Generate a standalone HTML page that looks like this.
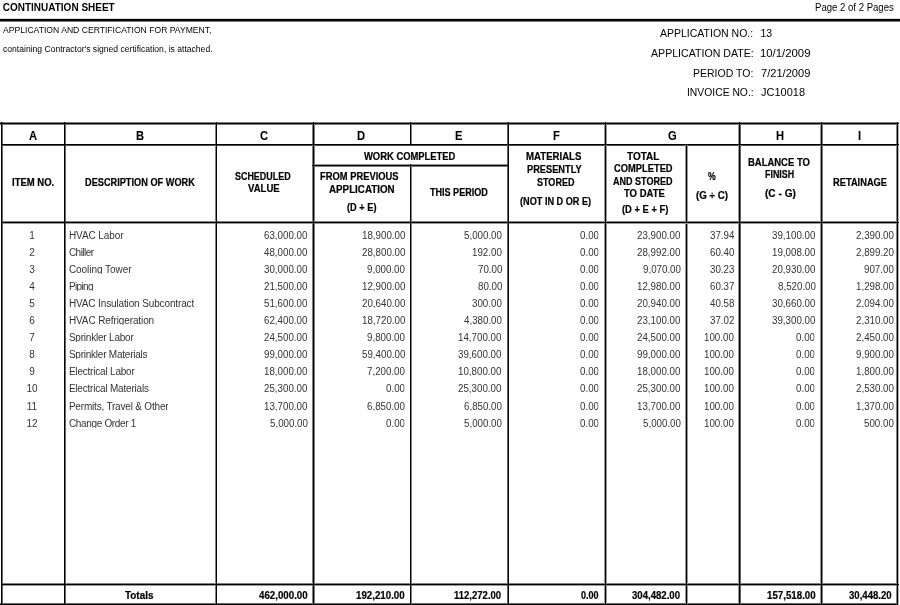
<!DOCTYPE html>
<html><head><meta charset="utf-8"><style>
html,body{margin:0;padding:0;background:#fff;}
body{width:900px;height:605px;overflow:hidden;position:relative;font-family:'Liberation Sans', sans-serif;color:#000;}
#pg{position:absolute;left:0;top:0;width:900px;height:605px;filter:grayscale(1);}
.t{position:absolute;white-space:nowrap;line-height:normal;transform-origin:0 0;}
.l{position:absolute;}
</style></head><body><div id="pg">
<div class="l" style="left:0px;top:18px;width:900px;height:1px;background:#d9d9d9"></div>
<div class="l" style="left:0px;top:21px;width:900px;height:1px;background:#808080"></div>
<div class="l" style="left:0px;top:122px;width:899px;height:1px;background:#808080"></div>
<div class="l" style="left:0px;top:124px;width:899px;height:1px;background:#808080"></div>
<div class="l" style="left:1px;top:145px;width:898px;height:1px;background:#4d4d4d"></div>
<div class="l" style="left:312px;top:164px;width:197px;height:1px;background:#999999"></div>
<div class="l" style="left:312px;top:166px;width:197px;height:1px;background:#808080"></div>
<div class="l" style="left:1px;top:221px;width:898px;height:1px;background:#808080"></div>
<div class="l" style="left:1px;top:223px;width:898px;height:1px;background:#999999"></div>
<div class="l" style="left:1px;top:583px;width:898px;height:1px;background:#808080"></div>
<div class="l" style="left:1px;top:585px;width:898px;height:1px;background:#999999"></div>
<div class="l" style="left:0px;top:603px;width:898px;height:1px;background:#666666"></div>
<div class="l" style="left:2px;top:122px;width:1px;height:483px;background:#666666"></div>
<div class="l" style="left:65px;top:122px;width:1px;height:483px;background:#666666"></div>
<div class="l" style="left:215px;top:122px;width:1px;height:483px;background:#808080"></div>
<div class="l" style="left:312px;top:122px;width:1px;height:483px;background:#808080"></div>
<div class="l" style="left:314px;top:122px;width:1px;height:483px;background:#808080"></div>
<div class="l" style="left:411px;top:122px;width:1px;height:23px;background:#808080"></div>
<div class="l" style="left:411px;top:164px;width:1px;height:441px;background:#808080"></div>
<div class="l" style="left:507px;top:122px;width:1px;height:483px;background:#666666"></div>
<div class="l" style="left:604px;top:122px;width:1px;height:483px;background:#999999"></div>
<div class="l" style="left:606px;top:122px;width:1px;height:483px;background:#999999"></div>
<div class="l" style="left:685px;top:145px;width:1px;height:78px;background:#999999"></div>
<div class="l" style="left:687px;top:145px;width:1px;height:78px;background:#999999"></div>
<div class="l" style="left:685px;top:224px;width:1px;height:381px;background:#999999"></div>
<div class="l" style="left:687px;top:224px;width:1px;height:381px;background:#999999"></div>
<div class="l" style="left:738px;top:122px;width:1px;height:483px;background:#999999"></div>
<div class="l" style="left:740px;top:122px;width:1px;height:483px;background:#666666"></div>
<div class="l" style="left:820px;top:122px;width:1px;height:483px;background:#999999"></div>
<div class="l" style="left:822px;top:122px;width:1px;height:483px;background:#808080"></div>
<div class="l" style="left:896px;top:122px;width:1px;height:483px;background:#808080"></div>
<div class="l" style="left:898px;top:122px;width:1px;height:483px;background:#b2b2b2"></div>
<div class="l" style="left:0px;top:19px;width:900px;height:2px;background:#000"></div>
<div class="l" style="left:0px;top:123px;width:899px;height:1px;background:#000"></div>
<div class="l" style="left:1px;top:144px;width:898px;height:1px;background:#000"></div>
<div class="l" style="left:312px;top:165px;width:197px;height:1px;background:#000"></div>
<div class="l" style="left:1px;top:222px;width:898px;height:1px;background:#000"></div>
<div class="l" style="left:1px;top:584px;width:898px;height:1px;background:#000"></div>
<div class="l" style="left:0px;top:604px;width:898px;height:1px;background:#000"></div>
<div class="l" style="left:1px;top:122px;width:1px;height:483px;background:#000"></div>
<div class="l" style="left:64px;top:122px;width:1px;height:483px;background:#000"></div>
<div class="l" style="left:216px;top:122px;width:1px;height:483px;background:#000"></div>
<div class="l" style="left:313px;top:122px;width:1px;height:483px;background:#000"></div>
<div class="l" style="left:410px;top:122px;width:1px;height:23px;background:#000"></div>
<div class="l" style="left:410px;top:164px;width:1px;height:441px;background:#000"></div>
<div class="l" style="left:508px;top:122px;width:1px;height:483px;background:#000"></div>
<div class="l" style="left:605px;top:122px;width:1px;height:483px;background:#000"></div>
<div class="l" style="left:686px;top:145px;width:1px;height:78px;background:#000"></div>
<div class="l" style="left:686px;top:224px;width:1px;height:381px;background:#000"></div>
<div class="l" style="left:739px;top:122px;width:1px;height:483px;background:#000"></div>
<div class="l" style="left:821px;top:122px;width:1px;height:483px;background:#000"></div>
<div class="l" style="left:897px;top:122px;width:1px;height:483px;background:#000"></div>
<div class="t" style="left:2.70px;top:2.00px;font-size:10px;font-weight:bold;">CONTINUATION SHEET</div>
<div class="t" style="left:815.00px;top:1.50px;font-size:10px;transform:scaleX(0.9573);">Page 2 of 2 Pages</div>
<div class="t" style="left:2.70px;top:25.00px;font-size:8.5px;transform:scaleX(1.0117);">APPLICATION AND CERTIFICATION FOR PAYMENT,</div>
<div class="t" style="left:2.70px;top:43.50px;font-size:8.5px;transform:scaleX(1.0092);">containing Contractor's signed certification, is attached.</div>
<div class="t" style="left:660.00px;top:26.50px;font-size:10.5px;">APPLICATION NO.:</div>
<div class="t" style="left:760.50px;top:26.50px;font-size:10.5px;">13</div>
<div class="t" style="left:651.00px;top:46.50px;font-size:10.5px;transform:scaleX(1.0099);">APPLICATION DATE:</div>
<div class="t" style="left:759.92px;top:46.50px;font-size:10.5px;transform:scaleX(1.0800);">10/1/2009</div>
<div class="t" style="left:693.00px;top:66.50px;font-size:10.5px;">PERIOD TO:</div>
<div class="t" style="left:761.00px;top:66.50px;font-size:10.5px;transform:scaleX(1.0565);">7/21/2009</div>
<div class="t" style="left:687.00px;top:86.00px;font-size:10.5px;transform:scaleX(0.9851);">INVOICE NO.:</div>
<div class="t" style="left:761.00px;top:86.00px;font-size:10.5px;transform:scaleX(1.0476);">JC10018</div>
<div class="t" style="left:28.96px;top:128.00px;font-size:13px;font-weight:bold;transform:scaleX(0.8600);-webkit-text-stroke:0.1px #000;">A</div>
<div class="t" style="left:135.96px;top:128.00px;font-size:13px;font-weight:bold;transform:scaleX(0.8600);-webkit-text-stroke:0.1px #000;">B</div>
<div class="t" style="left:259.96px;top:128.00px;font-size:13px;font-weight:bold;transform:scaleX(0.8600);-webkit-text-stroke:0.1px #000;">C</div>
<div class="t" style="left:357.46px;top:128.00px;font-size:13px;font-weight:bold;transform:scaleX(0.8600);-webkit-text-stroke:0.1px #000;">D</div>
<div class="t" style="left:455.27px;top:128.00px;font-size:13px;font-weight:bold;transform:scaleX(0.8600);-webkit-text-stroke:0.1px #000;">E</div>
<div class="t" style="left:552.58px;top:128.00px;font-size:13px;font-weight:bold;transform:scaleX(0.8600);-webkit-text-stroke:0.1px #000;">F</div>
<div class="t" style="left:667.65px;top:128.00px;font-size:13px;font-weight:bold;transform:scaleX(0.8600);-webkit-text-stroke:0.1px #000;">G</div>
<div class="t" style="left:776.46px;top:128.00px;font-size:13px;font-weight:bold;transform:scaleX(0.8600);-webkit-text-stroke:0.1px #000;">H</div>
<div class="t" style="left:857.94px;top:128.00px;font-size:13px;font-weight:bold;transform:scaleX(0.8600);-webkit-text-stroke:0.1px #000;">I</div>
<div class="t" style="left:11.60px;top:177.00px;font-size:10px;font-weight:bold;transform:scaleX(0.9500);-webkit-text-stroke:0.2px #000;">ITEM NO.</div>
<div class="t" style="left:84.50px;top:177.00px;font-size:10px;font-weight:bold;transform:scaleX(0.9193);-webkit-text-stroke:0.2px #000;">DESCRIPTION OF WORK</div>
<div class="t" style="left:234.70px;top:171.00px;font-size:10px;font-weight:bold;transform:scaleX(0.8935);-webkit-text-stroke:0.2px #000;">SCHEDULED</div>
<div class="t" style="left:248.30px;top:183.00px;font-size:10px;font-weight:bold;transform:scaleX(0.9545);-webkit-text-stroke:0.2px #000;">VALUE</div>
<div class="t" style="left:363.90px;top:151.00px;font-size:10px;font-weight:bold;transform:scaleX(0.9402);-webkit-text-stroke:0.2px #000;">WORK COMPLETED</div>
<div class="t" style="left:320.00px;top:171.00px;font-size:10px;font-weight:bold;transform:scaleX(0.9357);-webkit-text-stroke:0.2px #000;">FROM PREVIOUS</div>
<div class="t" style="left:328.60px;top:184.00px;font-size:10px;font-weight:bold;transform:scaleX(0.9791);-webkit-text-stroke:0.2px #000;">APPLICATION</div>
<div class="t" style="left:346.50px;top:202.00px;font-size:10px;font-weight:bold;transform:scaleX(0.9219);-webkit-text-stroke:0.2px #000;">(D + E)</div>
<div class="t" style="left:430.20px;top:187.00px;font-size:10px;font-weight:bold;transform:scaleX(0.9047);-webkit-text-stroke:0.2px #000;">THIS PERIOD</div>
<div class="t" style="left:526.20px;top:151.00px;font-size:10px;font-weight:bold;transform:scaleX(0.9621);-webkit-text-stroke:0.2px #000;">MATERIALS</div>
<div class="t" style="left:526.60px;top:164.00px;font-size:10px;font-weight:bold;transform:scaleX(0.9254);-webkit-text-stroke:0.2px #000;">PRESENTLY</div>
<div class="t" style="left:537.00px;top:177.00px;font-size:10px;font-weight:bold;transform:scaleX(0.9024);-webkit-text-stroke:0.2px #000;">STORED</div>
<div class="t" style="left:519.60px;top:196.00px;font-size:10px;font-weight:bold;transform:scaleX(0.9141);-webkit-text-stroke:0.2px #000;">(NOT IN D OR E)</div>
<div class="t" style="left:627.30px;top:151.00px;font-size:10px;font-weight:bold;transform:scaleX(0.9969);-webkit-text-stroke:0.2px #000;">TOTAL</div>
<div class="t" style="left:614.10px;top:163.00px;font-size:10px;font-weight:bold;transform:scaleX(0.9333);-webkit-text-stroke:0.2px #000;">COMPLETED</div>
<div class="t" style="left:613.30px;top:176.00px;font-size:10px;font-weight:bold;transform:scaleX(0.9030);-webkit-text-stroke:0.2px #000;">AND STORED</div>
<div class="t" style="left:624.20px;top:188.00px;font-size:10px;font-weight:bold;transform:scaleX(0.9488);-webkit-text-stroke:0.2px #000;">TO DATE</div>
<div class="t" style="left:621.90px;top:204.00px;font-size:10px;font-weight:bold;transform:scaleX(0.9367);-webkit-text-stroke:0.2px #000;">(D + E + F)</div>
<div class="t" style="left:707.90px;top:171.00px;font-size:10px;font-weight:bold;transform:scaleX(0.8667);-webkit-text-stroke:0.2px #000;">%</div>
<div class="t" style="left:695.80px;top:190.00px;font-size:10px;font-weight:bold;transform:scaleX(0.9788);-webkit-text-stroke:0.2px #000;">(G ÷ C)</div>
<div class="t" style="left:747.50px;top:157.00px;font-size:10px;font-weight:bold;transform:scaleX(0.9462);-webkit-text-stroke:0.2px #000;">BALANCE TO</div>
<div class="t" style="left:764.50px;top:169.00px;font-size:10px;font-weight:bold;transform:scaleX(0.8909);-webkit-text-stroke:0.2px #000;">FINISH</div>
<div class="t" style="left:764.50px;top:188.00px;font-size:10px;font-weight:bold;transform:scaleX(1.0100);-webkit-text-stroke:0.2px #000;">(C - G)</div>
<div class="t" style="left:832.80px;top:176.50px;font-size:10px;font-weight:bold;transform:scaleX(0.9293);-webkit-text-stroke:0.2px #000;">RETAINAGE</div>
<div class="t" style="left:29.22px;top:230.00px;font-size:10px;color:#333;height:10px;overflow:hidden;">1</div>
<div class="t" style="left:68.90px;top:230.00px;font-size:10px;letter-spacing:-0.078px;color:#333;height:10px;overflow:hidden;">HVAC Labor</div>
<div class="t" style="left:263.73px;top:230.00px;font-size:10px;transform:scaleX(0.9750);color:#333;height:10px;overflow:hidden;">63,000.00</div>
<div class="t" style="left:361.52px;top:230.00px;font-size:10px;transform:scaleX(0.9750);color:#333;height:10px;overflow:hidden;">18,900.00</div>
<div class="t" style="left:464.28px;top:230.00px;font-size:10px;transform:scaleX(0.9750);color:#333;height:10px;overflow:hidden;">5,000.00</div>
<div class="t" style="left:580.30px;top:230.00px;font-size:10px;transform:scaleX(0.9750);color:#333;height:10px;overflow:hidden;">0.00</div>
<div class="t" style="left:637.12px;top:230.00px;font-size:10px;transform:scaleX(0.9750);color:#333;height:10px;overflow:hidden;">23,900.00</div>
<div class="t" style="left:709.52px;top:230.00px;font-size:10px;transform:scaleX(0.9750);color:#333;height:10px;overflow:hidden;">37.94</div>
<div class="t" style="left:772.02px;top:230.00px;font-size:10px;transform:scaleX(0.9750);color:#333;height:10px;overflow:hidden;">39,100.00</div>
<div class="t" style="left:856.27px;top:230.00px;font-size:10px;transform:scaleX(0.9750);color:#333;height:10px;overflow:hidden;">2,390.00</div>
<div class="t" style="left:29.22px;top:247.00px;font-size:10px;color:#333;height:10px;overflow:hidden;">2</div>
<div class="t" style="left:68.90px;top:247.00px;font-size:10px;letter-spacing:-0.517px;color:#333;height:10px;overflow:hidden;">Chiller</div>
<div class="t" style="left:263.73px;top:247.00px;font-size:10px;transform:scaleX(0.9750);color:#333;height:10px;overflow:hidden;">48,000.00</div>
<div class="t" style="left:361.52px;top:247.00px;font-size:10px;transform:scaleX(0.9750);color:#333;height:10px;overflow:hidden;">28,800.00</div>
<div class="t" style="left:472.07px;top:247.00px;font-size:10px;transform:scaleX(0.9750);color:#333;height:10px;overflow:hidden;">192.00</div>
<div class="t" style="left:580.30px;top:247.00px;font-size:10px;transform:scaleX(0.9750);color:#333;height:10px;overflow:hidden;">0.00</div>
<div class="t" style="left:637.12px;top:247.00px;font-size:10px;transform:scaleX(0.9750);color:#333;height:10px;overflow:hidden;">28,992.00</div>
<div class="t" style="left:709.52px;top:247.00px;font-size:10px;transform:scaleX(0.9750);color:#333;height:10px;overflow:hidden;">60.40</div>
<div class="t" style="left:772.02px;top:247.00px;font-size:10px;transform:scaleX(0.9750);color:#333;height:10px;overflow:hidden;">19,008.00</div>
<div class="t" style="left:856.27px;top:247.00px;font-size:10px;transform:scaleX(0.9750);color:#333;height:10px;overflow:hidden;">2,899.20</div>
<div class="t" style="left:29.22px;top:264.00px;font-size:10px;color:#333;height:10px;overflow:hidden;">3</div>
<div class="t" style="left:68.90px;top:264.00px;font-size:10px;letter-spacing:-0.042px;color:#333;height:10px;overflow:hidden;">Cooling Tower</div>
<div class="t" style="left:263.73px;top:264.00px;font-size:10px;transform:scaleX(0.9750);color:#333;height:10px;overflow:hidden;">30,000.00</div>
<div class="t" style="left:367.38px;top:264.00px;font-size:10px;transform:scaleX(0.9750);color:#333;height:10px;overflow:hidden;">9,000.00</div>
<div class="t" style="left:477.93px;top:264.00px;font-size:10px;transform:scaleX(0.9750);color:#333;height:10px;overflow:hidden;">70.00</div>
<div class="t" style="left:580.30px;top:264.00px;font-size:10px;transform:scaleX(0.9750);color:#333;height:10px;overflow:hidden;">0.00</div>
<div class="t" style="left:642.98px;top:264.00px;font-size:10px;transform:scaleX(0.9750);color:#333;height:10px;overflow:hidden;">9,070.00</div>
<div class="t" style="left:709.52px;top:264.00px;font-size:10px;transform:scaleX(0.9750);color:#333;height:10px;overflow:hidden;">30.23</div>
<div class="t" style="left:772.02px;top:264.00px;font-size:10px;transform:scaleX(0.9750);color:#333;height:10px;overflow:hidden;">20,930.00</div>
<div class="t" style="left:864.07px;top:264.00px;font-size:10px;transform:scaleX(0.9750);color:#333;height:10px;overflow:hidden;">907.00</div>
<div class="t" style="left:29.22px;top:281.00px;font-size:10px;color:#333;height:10px;overflow:hidden;">4</div>
<div class="t" style="left:68.90px;top:281.00px;font-size:10px;letter-spacing:-0.620px;color:#333;height:10px;overflow:hidden;">Piping</div>
<div class="t" style="left:263.73px;top:281.00px;font-size:10px;transform:scaleX(0.9750);color:#333;height:10px;overflow:hidden;">21,500.00</div>
<div class="t" style="left:361.52px;top:281.00px;font-size:10px;transform:scaleX(0.9750);color:#333;height:10px;overflow:hidden;">12,900.00</div>
<div class="t" style="left:477.93px;top:281.00px;font-size:10px;transform:scaleX(0.9750);color:#333;height:10px;overflow:hidden;">80.00</div>
<div class="t" style="left:580.30px;top:281.00px;font-size:10px;transform:scaleX(0.9750);color:#333;height:10px;overflow:hidden;">0.00</div>
<div class="t" style="left:637.12px;top:281.00px;font-size:10px;transform:scaleX(0.9750);color:#333;height:10px;overflow:hidden;">12,980.00</div>
<div class="t" style="left:709.52px;top:281.00px;font-size:10px;transform:scaleX(0.9750);color:#333;height:10px;overflow:hidden;">60.37</div>
<div class="t" style="left:777.88px;top:281.00px;font-size:10px;transform:scaleX(0.9750);color:#333;height:10px;overflow:hidden;">8,520.00</div>
<div class="t" style="left:856.27px;top:281.00px;font-size:10px;transform:scaleX(0.9750);color:#333;height:10px;overflow:hidden;">1,298.00</div>
<div class="t" style="left:29.22px;top:298.00px;font-size:10px;color:#333;height:10px;overflow:hidden;">5</div>
<div class="t" style="left:68.90px;top:298.00px;font-size:10px;letter-spacing:-0.131px;color:#333;height:10px;overflow:hidden;">HVAC Insulation Subcontract</div>
<div class="t" style="left:263.73px;top:298.00px;font-size:10px;transform:scaleX(0.9750);color:#333;height:10px;overflow:hidden;">51,600.00</div>
<div class="t" style="left:361.52px;top:298.00px;font-size:10px;transform:scaleX(0.9750);color:#333;height:10px;overflow:hidden;">20,640.00</div>
<div class="t" style="left:472.07px;top:298.00px;font-size:10px;transform:scaleX(0.9750);color:#333;height:10px;overflow:hidden;">300.00</div>
<div class="t" style="left:580.30px;top:298.00px;font-size:10px;transform:scaleX(0.9750);color:#333;height:10px;overflow:hidden;">0.00</div>
<div class="t" style="left:637.12px;top:298.00px;font-size:10px;transform:scaleX(0.9750);color:#333;height:10px;overflow:hidden;">20,940.00</div>
<div class="t" style="left:709.52px;top:298.00px;font-size:10px;transform:scaleX(0.9750);color:#333;height:10px;overflow:hidden;">40.58</div>
<div class="t" style="left:772.02px;top:298.00px;font-size:10px;transform:scaleX(0.9750);color:#333;height:10px;overflow:hidden;">30,660.00</div>
<div class="t" style="left:856.27px;top:298.00px;font-size:10px;transform:scaleX(0.9750);color:#333;height:10px;overflow:hidden;">2,094.00</div>
<div class="t" style="left:29.22px;top:315.00px;font-size:10px;color:#333;height:10px;overflow:hidden;">6</div>
<div class="t" style="left:68.90px;top:315.00px;font-size:10px;letter-spacing:-0.106px;color:#333;height:10px;overflow:hidden;">HVAC Refrigeration</div>
<div class="t" style="left:263.73px;top:315.00px;font-size:10px;transform:scaleX(0.9750);color:#333;height:10px;overflow:hidden;">62,400.00</div>
<div class="t" style="left:361.52px;top:315.00px;font-size:10px;transform:scaleX(0.9750);color:#333;height:10px;overflow:hidden;">18,720.00</div>
<div class="t" style="left:464.28px;top:315.00px;font-size:10px;transform:scaleX(0.9750);color:#333;height:10px;overflow:hidden;">4,380.00</div>
<div class="t" style="left:580.30px;top:315.00px;font-size:10px;transform:scaleX(0.9750);color:#333;height:10px;overflow:hidden;">0.00</div>
<div class="t" style="left:637.12px;top:315.00px;font-size:10px;transform:scaleX(0.9750);color:#333;height:10px;overflow:hidden;">23,100.00</div>
<div class="t" style="left:709.52px;top:315.00px;font-size:10px;transform:scaleX(0.9750);color:#333;height:10px;overflow:hidden;">37.02</div>
<div class="t" style="left:772.02px;top:315.00px;font-size:10px;transform:scaleX(0.9750);color:#333;height:10px;overflow:hidden;">39,300.00</div>
<div class="t" style="left:856.27px;top:315.00px;font-size:10px;transform:scaleX(0.9750);color:#333;height:10px;overflow:hidden;">2,310.00</div>
<div class="t" style="left:29.22px;top:332.00px;font-size:10px;color:#333;height:10px;overflow:hidden;">7</div>
<div class="t" style="left:68.90px;top:332.00px;font-size:10px;letter-spacing:-0.207px;color:#333;height:10px;overflow:hidden;">Sprinkler Labor</div>
<div class="t" style="left:263.73px;top:332.00px;font-size:10px;transform:scaleX(0.9750);color:#333;height:10px;overflow:hidden;">24,500.00</div>
<div class="t" style="left:367.38px;top:332.00px;font-size:10px;transform:scaleX(0.9750);color:#333;height:10px;overflow:hidden;">9,800.00</div>
<div class="t" style="left:458.43px;top:332.00px;font-size:10px;transform:scaleX(0.9750);color:#333;height:10px;overflow:hidden;">14,700.00</div>
<div class="t" style="left:580.30px;top:332.00px;font-size:10px;transform:scaleX(0.9750);color:#333;height:10px;overflow:hidden;">0.00</div>
<div class="t" style="left:637.12px;top:332.00px;font-size:10px;transform:scaleX(0.9750);color:#333;height:10px;overflow:hidden;">24,500.00</div>
<div class="t" style="left:703.67px;top:332.00px;font-size:10px;transform:scaleX(0.9750);color:#333;height:10px;overflow:hidden;">100.00</div>
<div class="t" style="left:796.40px;top:332.00px;font-size:10px;transform:scaleX(0.9750);color:#333;height:10px;overflow:hidden;">0.00</div>
<div class="t" style="left:856.27px;top:332.00px;font-size:10px;transform:scaleX(0.9750);color:#333;height:10px;overflow:hidden;">2,450.00</div>
<div class="t" style="left:29.22px;top:349.00px;font-size:10px;color:#333;height:10px;overflow:hidden;">8</div>
<div class="t" style="left:68.90px;top:349.00px;font-size:10px;letter-spacing:-0.228px;color:#333;height:10px;overflow:hidden;">Sprinkler Materials</div>
<div class="t" style="left:263.73px;top:349.00px;font-size:10px;transform:scaleX(0.9750);color:#333;height:10px;overflow:hidden;">99,000.00</div>
<div class="t" style="left:361.52px;top:349.00px;font-size:10px;transform:scaleX(0.9750);color:#333;height:10px;overflow:hidden;">59,400.00</div>
<div class="t" style="left:458.43px;top:349.00px;font-size:10px;transform:scaleX(0.9750);color:#333;height:10px;overflow:hidden;">39,600.00</div>
<div class="t" style="left:580.30px;top:349.00px;font-size:10px;transform:scaleX(0.9750);color:#333;height:10px;overflow:hidden;">0.00</div>
<div class="t" style="left:637.12px;top:349.00px;font-size:10px;transform:scaleX(0.9750);color:#333;height:10px;overflow:hidden;">99,000.00</div>
<div class="t" style="left:703.67px;top:349.00px;font-size:10px;transform:scaleX(0.9750);color:#333;height:10px;overflow:hidden;">100.00</div>
<div class="t" style="left:796.40px;top:349.00px;font-size:10px;transform:scaleX(0.9750);color:#333;height:10px;overflow:hidden;">0.00</div>
<div class="t" style="left:856.27px;top:349.00px;font-size:10px;transform:scaleX(0.9750);color:#333;height:10px;overflow:hidden;">9,900.00</div>
<div class="t" style="left:29.22px;top:366.00px;font-size:10px;color:#333;height:10px;overflow:hidden;">9</div>
<div class="t" style="left:68.90px;top:366.00px;font-size:10px;letter-spacing:-0.200px;color:#333;height:10px;overflow:hidden;">Electrical Labor</div>
<div class="t" style="left:263.73px;top:366.00px;font-size:10px;transform:scaleX(0.9750);color:#333;height:10px;overflow:hidden;">18,000.00</div>
<div class="t" style="left:367.38px;top:366.00px;font-size:10px;transform:scaleX(0.9750);color:#333;height:10px;overflow:hidden;">7,200.00</div>
<div class="t" style="left:458.43px;top:366.00px;font-size:10px;transform:scaleX(0.9750);color:#333;height:10px;overflow:hidden;">10,800.00</div>
<div class="t" style="left:580.30px;top:366.00px;font-size:10px;transform:scaleX(0.9750);color:#333;height:10px;overflow:hidden;">0.00</div>
<div class="t" style="left:637.12px;top:366.00px;font-size:10px;transform:scaleX(0.9750);color:#333;height:10px;overflow:hidden;">18,000.00</div>
<div class="t" style="left:703.67px;top:366.00px;font-size:10px;transform:scaleX(0.9750);color:#333;height:10px;overflow:hidden;">100.00</div>
<div class="t" style="left:796.40px;top:366.00px;font-size:10px;transform:scaleX(0.9750);color:#333;height:10px;overflow:hidden;">0.00</div>
<div class="t" style="left:856.27px;top:366.00px;font-size:10px;transform:scaleX(0.9750);color:#333;height:10px;overflow:hidden;">1,800.00</div>
<div class="t" style="left:26.44px;top:383.00px;font-size:10px;color:#333;height:10px;overflow:hidden;">10</div>
<div class="t" style="left:68.90px;top:383.00px;font-size:10px;letter-spacing:-0.205px;color:#333;height:10px;overflow:hidden;">Electrical Materials</div>
<div class="t" style="left:263.73px;top:383.00px;font-size:10px;transform:scaleX(0.9750);color:#333;height:10px;overflow:hidden;">25,300.00</div>
<div class="t" style="left:385.90px;top:383.00px;font-size:10px;transform:scaleX(0.9750);color:#333;height:10px;overflow:hidden;">0.00</div>
<div class="t" style="left:458.43px;top:383.00px;font-size:10px;transform:scaleX(0.9750);color:#333;height:10px;overflow:hidden;">25,300.00</div>
<div class="t" style="left:580.30px;top:383.00px;font-size:10px;transform:scaleX(0.9750);color:#333;height:10px;overflow:hidden;">0.00</div>
<div class="t" style="left:637.12px;top:383.00px;font-size:10px;transform:scaleX(0.9750);color:#333;height:10px;overflow:hidden;">25,300.00</div>
<div class="t" style="left:703.67px;top:383.00px;font-size:10px;transform:scaleX(0.9750);color:#333;height:10px;overflow:hidden;">100.00</div>
<div class="t" style="left:796.40px;top:383.00px;font-size:10px;transform:scaleX(0.9750);color:#333;height:10px;overflow:hidden;">0.00</div>
<div class="t" style="left:856.27px;top:383.00px;font-size:10px;transform:scaleX(0.9750);color:#333;height:10px;overflow:hidden;">2,530.00</div>
<div class="t" style="left:26.80px;top:401.00px;font-size:10px;color:#333;height:10px;overflow:hidden;">11</div>
<div class="t" style="left:68.90px;top:401.00px;font-size:10px;letter-spacing:-0.191px;color:#333;height:10px;overflow:hidden;">Permits, Travel &amp; Other</div>
<div class="t" style="left:263.73px;top:401.00px;font-size:10px;transform:scaleX(0.9750);color:#333;height:10px;overflow:hidden;">13,700.00</div>
<div class="t" style="left:367.38px;top:401.00px;font-size:10px;transform:scaleX(0.9750);color:#333;height:10px;overflow:hidden;">6,850.00</div>
<div class="t" style="left:464.28px;top:401.00px;font-size:10px;transform:scaleX(0.9750);color:#333;height:10px;overflow:hidden;">6,850.00</div>
<div class="t" style="left:580.30px;top:401.00px;font-size:10px;transform:scaleX(0.9750);color:#333;height:10px;overflow:hidden;">0.00</div>
<div class="t" style="left:637.12px;top:401.00px;font-size:10px;transform:scaleX(0.9750);color:#333;height:10px;overflow:hidden;">13,700.00</div>
<div class="t" style="left:703.67px;top:401.00px;font-size:10px;transform:scaleX(0.9750);color:#333;height:10px;overflow:hidden;">100.00</div>
<div class="t" style="left:796.40px;top:401.00px;font-size:10px;transform:scaleX(0.9750);color:#333;height:10px;overflow:hidden;">0.00</div>
<div class="t" style="left:856.27px;top:401.00px;font-size:10px;transform:scaleX(0.9750);color:#333;height:10px;overflow:hidden;">1,370.00</div>
<div class="t" style="left:26.44px;top:418.00px;font-size:10px;color:#333;height:10px;overflow:hidden;">12</div>
<div class="t" style="left:68.90px;top:418.00px;font-size:10px;letter-spacing:-0.331px;color:#333;height:10px;overflow:hidden;">Change Order 1</div>
<div class="t" style="left:269.58px;top:418.00px;font-size:10px;transform:scaleX(0.9750);color:#333;height:10px;overflow:hidden;">5,000.00</div>
<div class="t" style="left:385.90px;top:418.00px;font-size:10px;transform:scaleX(0.9750);color:#333;height:10px;overflow:hidden;">0.00</div>
<div class="t" style="left:464.28px;top:418.00px;font-size:10px;transform:scaleX(0.9750);color:#333;height:10px;overflow:hidden;">5,000.00</div>
<div class="t" style="left:580.30px;top:418.00px;font-size:10px;transform:scaleX(0.9750);color:#333;height:10px;overflow:hidden;">0.00</div>
<div class="t" style="left:642.98px;top:418.00px;font-size:10px;transform:scaleX(0.9750);color:#333;height:10px;overflow:hidden;">5,000.00</div>
<div class="t" style="left:703.67px;top:418.00px;font-size:10px;transform:scaleX(0.9750);color:#333;height:10px;overflow:hidden;">100.00</div>
<div class="t" style="left:796.40px;top:418.00px;font-size:10px;transform:scaleX(0.9750);color:#333;height:10px;overflow:hidden;">0.00</div>
<div class="t" style="left:864.07px;top:418.00px;font-size:10px;transform:scaleX(0.9750);color:#333;height:10px;overflow:hidden;">500.00</div>
<div class="t" style="left:125.20px;top:590.00px;font-size:10px;font-weight:bold;transform:scaleX(0.9897);-webkit-text-stroke:0.2px #000;">Totals</div>
<div class="t" style="left:259.30px;top:590.00px;font-size:10px;font-weight:bold;transform:scaleX(0.9720);-webkit-text-stroke:0.2px #000;">462,000.00</div>
<div class="t" style="left:356.40px;top:590.00px;font-size:10px;font-weight:bold;transform:scaleX(0.9720);-webkit-text-stroke:0.2px #000;">192,210.00</div>
<div class="t" style="left:454.00px;top:590.00px;font-size:10px;font-weight:bold;transform:scaleX(0.9520);-webkit-text-stroke:0.2px #000;">112,272.00</div>
<div class="t" style="left:581.00px;top:590.00px;font-size:10px;font-weight:bold;transform:scaleX(0.9000);-webkit-text-stroke:0.2px #000;">0.00</div>
<div class="t" style="left:632.40px;top:590.00px;font-size:10px;font-weight:bold;transform:scaleX(0.9600);-webkit-text-stroke:0.2px #000;">304,482.00</div>
<div class="t" style="left:767.00px;top:590.00px;font-size:10px;font-weight:bold;transform:scaleX(0.9720);-webkit-text-stroke:0.2px #000;">157,518.00</div>
<div class="t" style="left:849.30px;top:590.00px;font-size:10px;font-weight:bold;transform:scaleX(0.9578);-webkit-text-stroke:0.2px #000;">30,448.20</div>
</div></body></html>
